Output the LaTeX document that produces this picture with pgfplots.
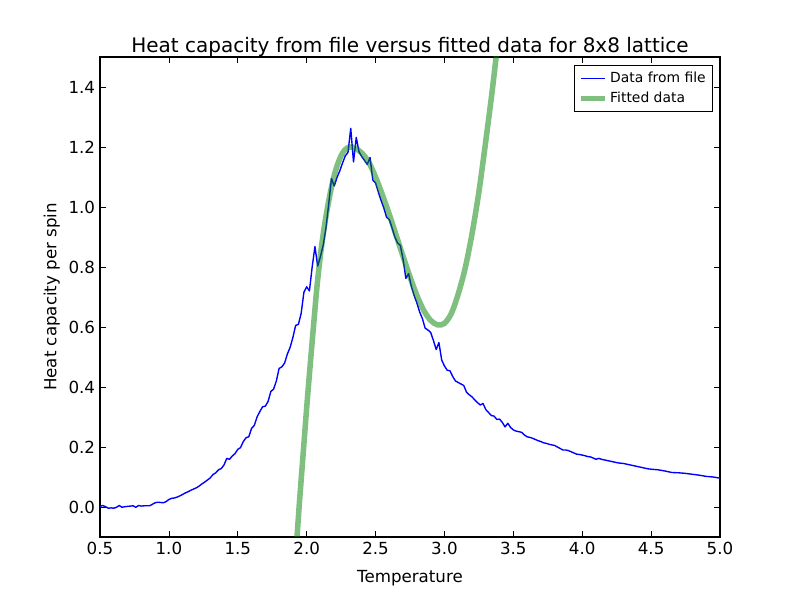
\documentclass[border=0pt]{standalone}
\usepackage{pgfplots}
\pgfplotsset{compat=1.18}
\usepackage{fontspec}
\setmainfont{DejaVu Sans}
\definecolor{mplblue}{rgb}{0,0,1}
\definecolor{mplgreen}{rgb}{0,0.5,0}
\begin{document}
\begin{tikzpicture}
\useasboundingbox (-72pt,-43.2pt) rectangle (504pt,386.64pt);
\begin{axis}[
  at={(0,0)}, anchor=south west,
  scale only axis, width=446.4pt, height=345.6pt,
  xmin=0.5, xmax=5.0, ymin=-0.1, ymax=1.5,
  xtick={0.5,1.0,...,5.0}, ytick={0.0,0.2,...,1.4},
  tick align=inside, major tick length=4pt,
  tick style={black, line width=0.5pt},
  axis line style={line width=0.8pt},
  /pgf/number format/.cd, fixed, fixed zerofill, precision=1, assume math mode=true,
  /pgfplots/.cd,
  tick label style={font=\fontsize{12}{14}\selectfont},
  xlabel={Temperature}, ylabel={Heat capacity per spin},
  label style={font=\fontsize{12}{14}\selectfont},
  xlabel style={yshift=-4.5pt},
  ylabel style={yshift=-0.5pt},
  title={Heat capacity from file versus fitted data for 8x8 lattice},
  title style={font=\fontsize{14.4}{17}\selectfont, yshift=-9.5pt},
  legend style={at={(1,1)}, anchor=north east, xshift=-5pt, yshift=-5.8pt,
    font=\fontsize{10}{12}\selectfont, draw=black, line width=0.6pt, inner sep=3pt,
    row sep=1pt},
  legend cell align=left,
]
\addplot[mplblue, line width=1pt, line join=round] coordinates {
(0.50,0.002)(0.52,0.005)(0.54,0.001)(0.56,-0.004)(0.58,-0.003)(0.60,-0.004)
(0.62,-0.001)(0.64,0.005)(0.66,-0.001)(0.68,0.001)(0.70,0.002)(0.72,0.003)
(0.74,0.004)(0.76,-0.001)(0.78,0.005)(0.80,0.003)(0.82,0.004)(0.84,0.004)
(0.86,0.004)(0.88,0.009)(0.90,0.014)(0.92,0.016)(0.94,0.015)(0.96,0.014)
(0.98,0.018)(1.00,0.025)(1.02,0.029)(1.04,0.030)(1.06,0.033)(1.08,0.037)
(1.10,0.042)(1.12,0.047)(1.14,0.051)(1.16,0.056)(1.18,0.060)(1.20,0.064)
(1.22,0.070)(1.24,0.077)(1.26,0.083)(1.28,0.090)(1.30,0.097)(1.32,0.108)
(1.34,0.114)(1.36,0.124)(1.38,0.128)(1.40,0.140)(1.42,0.162)(1.44,0.159)
(1.46,0.170)(1.48,0.178)(1.50,0.192)(1.52,0.198)(1.54,0.218)(1.56,0.231)
(1.58,0.234)(1.60,0.262)(1.62,0.272)(1.64,0.300)(1.66,0.318)(1.68,0.334)
(1.70,0.336)(1.72,0.352)(1.74,0.385)(1.76,0.393)(1.78,0.420)(1.80,0.462)
(1.82,0.467)(1.84,0.480)(1.86,0.510)(1.88,0.532)(1.90,0.565)(1.92,0.605)
(1.94,0.609)(1.96,0.645)(1.98,0.716)(2.00,0.734)(2.02,0.720)(2.04,0.800)
(2.06,0.868)(2.08,0.803)(2.10,0.835)(2.12,0.873)(2.14,0.930)(2.16,1.010)
(2.18,1.095)(2.20,1.070)(2.22,1.098)(2.24,1.120)(2.26,1.146)(2.28,1.170)
(2.30,1.182)(2.32,1.262)(2.34,1.150)(2.36,1.232)(2.38,1.184)(2.40,1.168)
(2.42,1.155)(2.44,1.142)(2.46,1.165)(2.48,1.090)(2.50,1.080)(2.52,1.050)
(2.54,1.022)(2.56,0.997)(2.58,0.966)(2.60,0.958)(2.62,0.930)(2.64,0.900)
(2.66,0.880)(2.68,0.872)(2.70,0.825)(2.72,0.762)(2.74,0.778)(2.76,0.735)
(2.78,0.705)(2.80,0.680)(2.82,0.650)(2.84,0.628)(2.86,0.596)(2.88,0.590)
(2.90,0.582)(2.92,0.555)(2.94,0.525)(2.96,0.548)(2.98,0.490)(3.00,0.470)
(3.02,0.456)(3.04,0.454)(3.06,0.435)(3.08,0.420)(3.10,0.415)(3.12,0.410)
(3.14,0.405)(3.16,0.383)(3.18,0.374)(3.20,0.367)(3.22,0.357)(3.24,0.348)
(3.26,0.340)(3.28,0.345)(3.30,0.325)(3.32,0.315)(3.34,0.305)(3.36,0.303)
(3.38,0.292)(3.40,0.293)(3.42,0.282)(3.44,0.267)(3.46,0.279)(3.48,0.265)
(3.50,0.257)(3.52,0.253)(3.54,0.251)(3.56,0.249)(3.58,0.240)(3.60,0.234)
(3.62,0.232)(3.64,0.229)(3.66,0.225)(3.68,0.221)(3.70,0.218)(3.72,0.214)
(3.74,0.212)(3.76,0.209)(3.78,0.207)(3.80,0.205)(3.82,0.200)(3.84,0.195)
(3.86,0.190)(3.88,0.190)(3.90,0.188)(3.92,0.184)(3.94,0.180)(3.96,0.176)
(3.98,0.175)(4.00,0.173)(4.02,0.171)(4.04,0.168)(4.06,0.167)(4.08,0.163)
(4.10,0.159)(4.12,0.162)(4.14,0.159)(4.16,0.157)(4.18,0.155)(4.20,0.153)
(4.22,0.151)(4.24,0.149)(4.26,0.147)(4.28,0.146)(4.30,0.145)(4.32,0.143)
(4.34,0.141)(4.36,0.139)(4.38,0.137)(4.40,0.135)(4.42,0.133)(4.44,0.131)
(4.46,0.129)(4.48,0.127)(4.50,0.126)(4.55,0.124)(4.60,0.120)(4.65,0.115)
(4.70,0.114)(4.75,0.112)(4.80,0.109)(4.85,0.106)(4.90,0.102)(4.95,0.100)
(5.00,0.096)
};
\addlegendentry{Data from file}
\addplot[mplgreen, draw opacity=0.5, line width=4pt, smooth] coordinates {
(1.90,-0.30)(1.93,-0.10)(1.95,0.03)(1.975,0.18)(2.00,0.33)(2.025,0.47)
(2.05,0.605)(2.075,0.735)(2.10,0.84)(2.125,0.925)(2.15,0.995)(2.175,1.055)
(2.20,1.105)(2.225,1.143)(2.25,1.171)(2.275,1.189)(2.30,1.198)(2.325,1.200)
(2.35,1.197)(2.40,1.180)(2.45,1.150)(2.50,1.100)(2.55,1.040)(2.60,0.975)
(2.65,0.905)(2.70,0.835)(2.75,0.767)(2.80,0.705)(2.85,0.655)(2.90,0.622)
(2.95,0.607)(3.00,0.612)(3.05,0.645)(3.10,0.710)(3.15,0.795)(3.20,0.910)
(3.25,1.050)(3.30,1.220)(3.35,1.400)(3.40,1.600)
};
\addlegendentry{Fitted data}
\end{axis}
\end{tikzpicture}
\end{document}
